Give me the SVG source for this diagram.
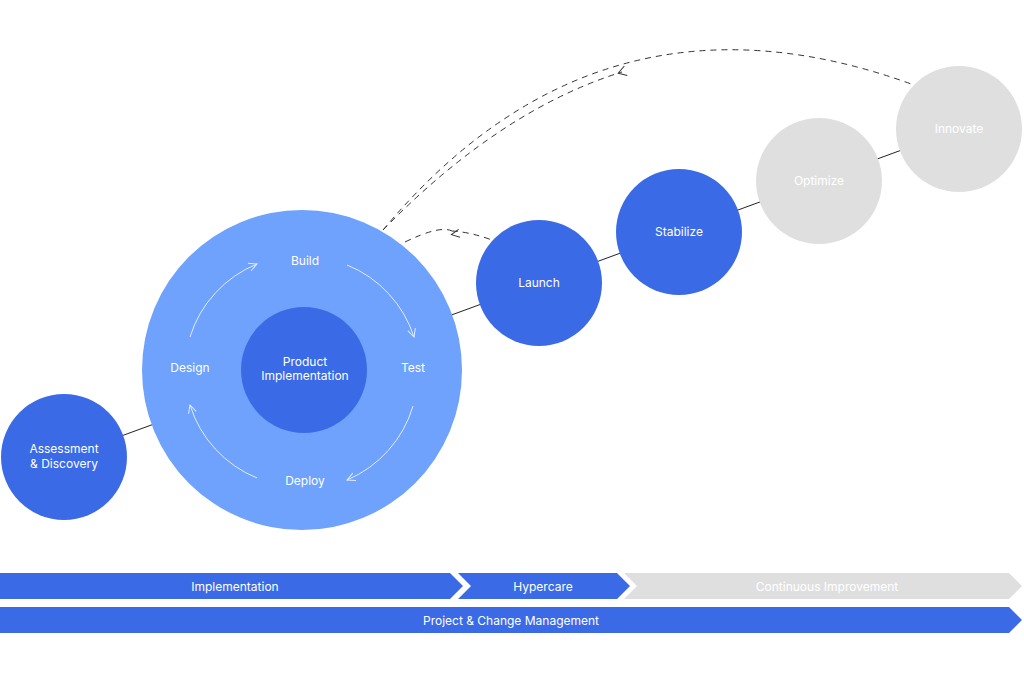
<svg xmlns="http://www.w3.org/2000/svg" width="1024" height="683" viewBox="0 0 1024 683">
<defs>
<style>
text{font-family:Inter,"Liberation Sans",sans-serif;font-size:12px;fill:#fff;text-anchor:middle}
.dark{fill:#3B6AE6}.grey{fill:#DFDFDF}
.cyc{fill:none;stroke:#fff;stroke-width:1;opacity:.8}
.dash{fill:none;stroke:#333;stroke-width:1;stroke-dasharray:6 5}
</style>
<marker id="wa" viewBox="0 0 10 10" refX="9" refY="5" markerWidth="10" markerHeight="10" orient="auto" markerUnits="userSpaceOnUse"><path d="M1,1 L9,5 L1,9" fill="none" stroke="#fff" stroke-width="1"/></marker>
<marker id="da" viewBox="0 0 12 12" refX="6" refY="6" markerWidth="12" markerHeight="12" orient="auto" markerUnits="userSpaceOnUse"><path d="M10,1 L2,6 L10,11" fill="none" stroke="#333" stroke-width="1"/></marker>
</defs>
<rect width="1024" height="683" fill="#fff"/>
<g id="connectors">
<line x1="64" y1="457" x2="959" y2="129" stroke="#222" stroke-width="1"/>
<path class="dash" d="M383,230 Q600,-30 914,85" marker-mid="url(#da)"/>
<path class="dash" d="M383,230 Q500,110 622,72" marker-end="url(#da)" stroke="none"/>
<path class="dash" d="M405,242 Q440,225 452,231"/>
<path d="M459,230 l-8,4 l8,4" fill="none" stroke="#333" transform="rotate(-10 455 232)"/>
<path class="dash" d="M452,231 Q470,232 492,240"/>
</g>
<g id="assessment"><circle cx="64" cy="457" r="63" class="dark"/><text x="64" y="453">Assessment</text><text x="64" y="468">&amp; Discovery</text></g>
<g id="product-cycle">
<circle cx="302" cy="370" r="160" fill="#6EA2FC"/>
<path class="cyc" d="M190,337 A116,116 0 0 1 257,264" marker-end="url(#wa)"/>
<path class="cyc" d="M347,265 A116,116 0 0 1 414,337" marker-end="url(#wa)"/>
<path class="cyc" d="M413,406 A116,116 0 0 1 347,480" marker-end="url(#wa)"/>
<path class="cyc" d="M257,478 A116,116 0 0 1 190,405" marker-end="url(#wa)"/>
<text x="305" y="265">Build</text><text x="413" y="372">Test</text><text x="305" y="485">Deploy</text><text x="190" y="372">Design</text>
</g>
<g id="product"><circle cx="304" cy="370" r="63" class="dark"/><text x="305" y="366">Product</text><text x="305" y="380">Implementation</text></g>
<g id="launch"><circle cx="539" cy="283" r="63" class="dark"/><text x="539" y="287">Launch</text></g>
<g id="stabilize"><circle cx="679" cy="232" r="63" class="dark"/><text x="679" y="236">Stabilize</text></g>
<g id="optimize"><circle cx="819" cy="181" r="63" class="grey"/><text x="819" y="185">Optimize</text></g>
<g id="innovate"><circle cx="959" cy="129" r="63" class="grey"/><text x="959" y="133">Innovate</text></g>
<g id="phase-implementation"><polygon class="dark" points="0,573 450,573 463,586 450,599 0,599"/><text x="235" y="591">Implementation</text></g>
<g id="phase-hypercare"><polygon class="dark" points="458,573 617,573 630,586 617,599 458,599 471,586"/><text x="543" y="591">Hypercare</text></g>
<g id="phase-ci"><polygon class="grey" points="624,573 1009,573 1022,586 1009,599 624,599 637,586"/><text x="827" y="591">Continuous Improvement</text></g>
<g id="phase-pcm"><polygon class="dark" points="0,607 1009,607 1022,620 1009,633 0,633"/><text x="511" y="625">Project &amp; Change Management</text></g>
</svg>
